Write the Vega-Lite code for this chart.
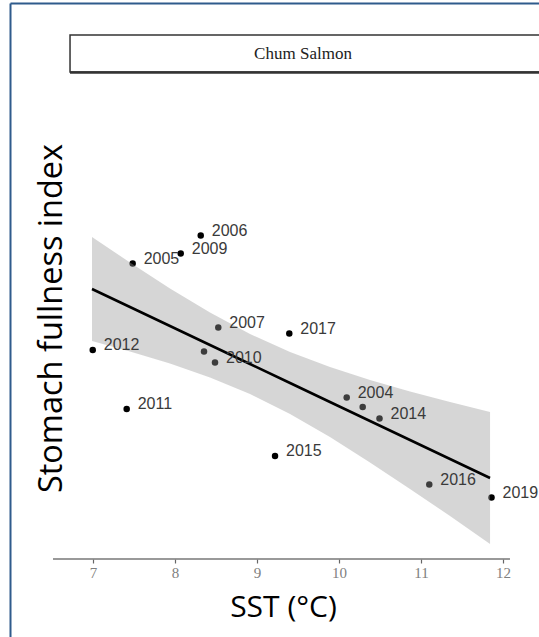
{
  "$schema": "https://vega.github.io/schema/vega-lite/v6.json",
  "width": 529,
  "height": 634,
  "autosize": "none",
  "padding": {"left": 10, "top": 3, "right": 0, "bottom": 0},
  "background": "white",
  "config": {"view": {"stroke": null}},
  "datasets": {
    "points": [
      {"sst": 10.094, "sfi": 4.79, "label": "2004"},
      {"sst": 7.484, "sfi": 7.47, "label": "2005"},
      {"sst": 8.314, "sfi": 8.03, "label": "2006"},
      {"sst": 8.528, "sfi": 6.19, "label": "2007"},
      {"sst": 8.354, "sfi": 5.71, "label": ""},
      {"sst": 8.07, "sfi": 7.67, "label": "2009"},
      {"sst": 8.488, "sfi": 5.49, "label": "2010"},
      {"sst": 7.411, "sfi": 4.56, "label": "2011"},
      {"sst": 6.997, "sfi": 5.74, "label": "2012"},
      {"sst": 10.289, "sfi": 4.6, "label": ""},
      {"sst": 10.494, "sfi": 4.37, "label": "2014"},
      {"sst": 9.22, "sfi": 3.62, "label": "2015"},
      {"sst": 11.101, "sfi": 3.05, "label": "2016"},
      {"sst": 9.394, "sfi": 6.07, "label": "2017"},
      {"sst": 11.86, "sfi": 2.79, "label": "2019"}
    ],
    "fit": [
      {"sst": 6.988, "fit": 6.96, "lo": 5.92, "hi": 8.0},
      {"sst": 7.451, "fit": 6.6, "lo": 5.71, "hi": 7.49},
      {"sst": 7.939, "fit": 6.22, "lo": 5.47, "hi": 6.97},
      {"sst": 8.427, "fit": 5.84, "lo": 5.19, "hi": 6.49},
      {"sst": 8.915, "fit": 5.46, "lo": 4.86, "hi": 6.06},
      {"sst": 9.403, "fit": 5.08, "lo": 4.46, "hi": 5.7},
      {"sst": 9.89, "fit": 4.7, "lo": 4.0, "hi": 5.4},
      {"sst": 10.378, "fit": 4.32, "lo": 3.49, "hi": 5.14},
      {"sst": 10.866, "fit": 3.94, "lo": 2.96, "hi": 4.91},
      {"sst": 11.354, "fit": 3.56, "lo": 2.42, "hi": 4.7},
      {"sst": 11.842, "fit": 3.18, "lo": 1.86, "hi": 4.5}
    ],
    "strip": [{"title": "Chum Salmon"}]
  },
  "resolve": {"axis": {"x": "independent", "y": "independent"}},
  "layer": [
    {
      "data": {"name": "points"},
      "mark": {"type": "circle", "size": 42, "opacity": 1, "color": "#000000"},
      "encoding": {
        "x": {
          "field": "sst", "type": "quantitative",
          "scale": {"domain": [5.988, 12.439], "nice": false, "zero": false},
          "axis": {
            "orient": "bottom", "offset": -78, "grid": false, "domain": false,
            "values": [7, 8, 9, 10, 11, 12], "tickSize": 4, "tickColor": "#666666", "tickWidth": 1.2,
            "labelFont": "Liberation Serif", "labelFontSize": 15, "labelColor": "#808080", "labelPadding": 2,
            "title": "SST (°C)", "titleFont": "Open Sans", "titleFontSize": 30, "titleFontWeight": "normal",
            "titleColor": "#000000", "titleX": 273, "titleY": 48, "titleBaseline": "middle", "titleAlign": "center"
          }
        },
        "y": {
          "field": "sfi", "type": "quantitative",
          "scale": {"domain": [0, 12.68], "nice": false, "zero": false},
          "axis": {
            "orient": "left", "grid": false, "ticks": false, "labels": false,
            "domain": true, "domainColor": "#2f5b8c", "domainWidth": 2,
            "title": "Stomach fullness index", "titleFont": "Open Sans", "titleFontSize": 32.5,
            "titleFontWeight": "normal", "titleColor": "#000000", "titleAngle": 270,
            "titleX": 41, "titleY": 315, "titleBaseline": "middle", "titleAlign": "center"
          }
        }
      }
    },
    {
      "data": {"name": "fit"},
      "mark": {"type": "area", "color": "#999999", "fillOpacity": 0.4},
      "encoding": {
        "x": {"field": "sst", "type": "quantitative", "axis": null},
        "y": {"field": "hi", "type": "quantitative", "axis": null},
        "y2": {"field": "lo"}
      }
    },
    {
      "data": {"name": "fit"},
      "mark": {"type": "line", "color": "#000000", "strokeWidth": 2.5},
      "encoding": {
        "x": {"field": "sst", "type": "quantitative", "axis": null},
        "y": {"field": "fit", "type": "quantitative", "axis": null}
      }
    },
    {
      "data": {"name": "points"},
      "mark": {"type": "text", "align": "left", "baseline": "middle", "dx": 11, "dy": -5,
               "font": "Liberation Sans", "fontSize": 16, "color": "#3a3a3a"},
      "encoding": {
        "x": {"field": "sst", "type": "quantitative", "axis": null},
        "y": {"field": "sfi", "type": "quantitative", "axis": null},
        "text": {"field": "label"}
      }
    },
    {
      "data": {"name": "strip"},
      "mark": {"type": "rule", "color": "#777777", "strokeWidth": 1.5},
      "encoding": {
        "x": {"datum": 6.512, "type": "quantitative", "axis": null},
        "x2": {"datum": 12.085},
        "y": {"datum": 1.56, "type": "quantitative", "axis": null}
      }
    },
    {
      "data": {"name": "strip"},
      "mark": {"type": "rect", "fill": "#ffffff", "stroke": "#333333", "strokeWidth": 1.5},
      "encoding": {
        "x": {"datum": 6.72, "type": "quantitative",
              "axis": {"orient": "top", "grid": false, "ticks": false, "labels": false, "title": null,
                       "domain": true, "domainColor": "#2f5b8c", "domainWidth": 2}},
        "x2": {"datum": 12.7},
        "y": {"datum": 12.04, "type": "quantitative", "axis": null},
        "y2": {"datum": 11.3}
      }
    },
    {
      "data": {"name": "strip"},
      "mark": {"type": "rule", "color": "#333333", "strokeWidth": 2.5},
      "encoding": {
        "x": {"datum": 6.72, "type": "quantitative", "axis": null},
        "x2": {"datum": 12.7},
        "y": {"datum": 11.29, "type": "quantitative", "axis": null}
      }
    },
    {
      "data": {"name": "strip"},
      "mark": {"type": "text", "align": "center", "baseline": "middle", "font": "Liberation Serif",
               "fontSize": 17, "color": "#222222"},
      "encoding": {
        "x": {"datum": 9.561, "type": "quantitative", "axis": null},
        "y": {"datum": 11.66, "type": "quantitative", "axis": null},
        "text": {"field": "title"}
      }
    }
  ]
}
